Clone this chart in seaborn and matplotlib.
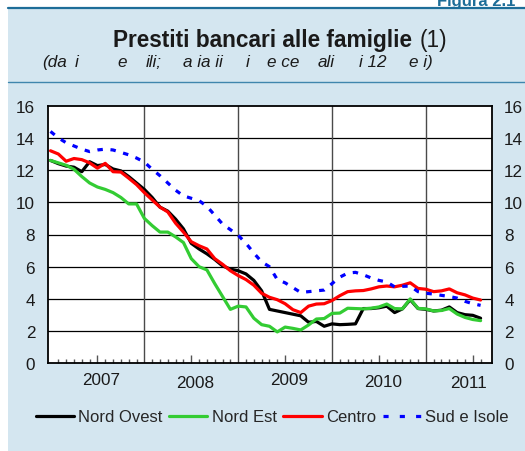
import numpy as np
import pandas as pd
import matplotlib
matplotlib.use("Agg")
import matplotlib.pyplot as plt
import matplotlib.transforms as mtransforms
from matplotlib.patches import Rectangle
from matplotlib.lines import Line2D
import seaborn as sns

# ---------------- data (monthly, Jan 2007 - Aug 2011) ----------------
months = list(range(56))
nord_ovest = [12.6, 12.4, 12.25, 12.18, 11.9, 12.52, 12.28, 12.35, 12.07, 11.95,
              11.6, 11.2, 10.8, 10.3, 9.7, 9.45, 8.95, 8.35, 7.45, 7.1,
              6.8, 6.45, 6.05, 5.85, 5.75, 5.55, 5.15, 4.5, 3.35, 3.25,
              3.15, 3.05, 2.95, 2.55, 2.6, 2.3, 2.45, 2.4, 2.42, 2.45,
              3.4, 3.4, 3.45, 3.55, 3.15, 3.38, 3.95, 3.4, 3.35, 3.25,
              3.3, 3.5, 3.15, 3.02, 2.98, 2.8]
nord_est = [12.6, 12.45, 12.3, 12.05, 11.6, 11.2, 10.95, 10.8, 10.6, 10.3,
            9.9, 9.9, 9.0, 8.55, 8.15, 8.15, 7.85, 7.5, 6.5, 6.0,
            5.8, 4.95, 4.15, 3.35, 3.55, 3.5, 2.8, 2.4, 2.3, 1.95,
            2.25, 2.17, 2.07, 2.38, 2.75, 2.78, 3.1, 3.12, 3.42, 3.4,
            3.38, 3.42, 3.5, 3.68, 3.4, 3.38, 4.0, 3.41, 3.38, 3.25,
            3.28, 3.4, 3.06, 2.85, 2.72, 2.65]
centro = [13.2, 13.0, 12.55, 12.72, 12.65, 12.45, 12.12, 12.42, 11.9, 11.88,
          11.5, 11.1, 10.6, 10.15, 9.7, 9.4, 8.7, 8.15, 7.55, 7.3,
          7.1, 6.5, 6.15, 5.75, 5.45, 5.2, 4.85, 4.35, 4.1, 3.95,
          3.7, 3.33, 3.15, 3.55, 3.68, 3.7, 3.9, 4.2, 4.45, 4.5,
          4.52, 4.62, 4.75, 4.8, 4.75, 4.85, 5.0, 4.65, 4.6, 4.45,
          4.5, 4.62, 4.38, 4.25, 4.05, 3.93]
sud_isole = [14.4, 14.0, 13.7, 13.5, 13.3, 13.15, 13.25, 13.3, 13.25, 13.1,
             12.95, 12.75, 12.5, 12.05, 11.65, 11.2, 10.75, 10.4, 10.25, 10.1,
             9.75, 9.2, 8.65, 8.3, 7.95, 7.45, 6.85, 6.3, 6.0, 5.2,
             5.0, 4.7, 4.4, 4.45, 4.5, 4.55, 4.95, 5.35, 5.6, 5.65,
             5.5, 5.3, 5.15, 5.05, 4.75, 4.78, 4.8, 4.45, 4.35, 4.3,
             4.22, 4.15, 4.05, 3.85, 3.7, 3.6]

series_names = ["Nord Ovest", "Nord Est", "Centro", "Sud e Isole"]
year_labels = ["2007", "2008", "2009", "2010", "2011"]
year_label_pos = [6.5, 18.5, 30.5, 42.5, 53.4]
year_boundaries = [12, 24, 36, 48]
y_ticks = [0, 2, 4, 6, 8, 10, 12, 14, 16]

title_main = "Prestiti bancari alle famiglie"
title_note = "(1)"
subtitle_parts = ["(da", "i", "e", "ili;", "a ia ii", "i", "e ce", "ali", "i 12", "e i)"]
fig_label = "Figura 2.1"

# ---------------- style ----------------
sns.set_theme(style="white")
plt.rcParams['font.family'] = ['Liberation Sans', 'DejaVu Sans']

W, H = 525, 452
panel_col = "#d4e6f0"
rule_col = "#1d6d98"
colors = ["#000000", "#33cc33", "#ff0000", "#0000ff"]

fig = plt.figure(figsize=(W / 100, H / 100), dpi=100)
fig.patch.set_facecolor("white")

def fx(px):
    return px / W

def fy(py):
    return 1 - py / H

fig.patches.append(Rectangle((fx(8), 0), 1, fy(9), transform=fig.transFigure,
                             facecolor=panel_col, edgecolor="none", zorder=-10))
fig.add_artist(Line2D([fx(8), 1], [fy(9), fy(9)], color=rule_col, lw=1.6))
fig.add_artist(Line2D([fx(8), 1], [fy(83), fy(83)], color="#3f86ad", lw=1.0))

fig.text(fx(437), fy(6), fig_label, ha="left", va="baseline", fontsize=12,
         fontweight="bold", color=rule_col)
fig.text(fx(412), fy(40), title_main, ha="right", va="center", fontsize=16.3,
         fontweight="bold", color="#1a1a1a")
fig.text(fx(420), fy(40), title_note, ha="left", va="center", fontsize=16.3,
         color="#1a1a1a")
sub_x = [42, 75, 117, 146, 183, 246, 267, 318, 359, 409]
for part, xp in zip(subtitle_parts, sub_x):
    fig.text(fx(xp), fy(63), part, ha="left", va="center", fontsize=12.3,
             style="italic", color="#1a1a1a")

left, right, top, bottom = 47.7, 491.7, 106.7, 364.3
ax = fig.add_axes([fx(left), fy(bottom), fx(right - left), (bottom - top) / H])
ax.set_facecolor("white")

df = pd.DataFrame({"mese": months, "Nord Ovest": nord_ovest, "Nord Est": nord_est,
                   "Centro": centro, "Sud e Isole": sud_isole})
long = df.melt(id_vars="mese", var_name="area", value_name="valore")

for name, col in zip(series_names, colors):
    sub = long[long["area"] == name]
    sns.lineplot(data=sub, x="mese", y="valore", ax=ax, color=col, linewidth=2.3,
                 zorder=5, legend=False)
lines = ax.get_lines()
lines[-1].set_dashes((1.7, 2.4))

for yv in y_ticks[1:-1]:
    ax.axhline(yv, color="black", lw=0.9, zorder=1)
for xv in year_boundaries:
    ax.axvline(xv, color="#4a4a4a", lw=1.0, zorder=1)

ax.set_xlim(-0.36, 56.42)
ax.set_ylim(0, 16)
ax.set_yticks(y_ticks)
ax.set_yticklabels([str(v) for v in y_ticks])
ax.tick_params(axis="y", which="both", length=0, pad=9, labelsize=12.3,
               left=False, right=False, labelleft=True, labelright=True,
               labelcolor="#1a1a1a")
ax.set_xticks([6, 18, 30, 42, 54])
ax.set_xticklabels([""] * 5)
ax.set_xticks([m for m in months if m % 12 not in (0, 6)], minor=True)
ax.tick_params(axis="x", which="major", direction="in", length=6, width=1,
               color="#555555", bottom=True, top=False)
ax.tick_params(axis="x", which="minor", direction="in", length=3, width=1,
               color="#555555", bottom=True, top=False)
ax.set_xlabel("")
ax.set_ylabel("")
for s in ax.spines.values():
    s.set_color("black")
    s.set_linewidth(1.3)
    s.set_visible(True)

trans = mtransforms.blended_transform_factory(ax.transData, fig.transFigure)
label_py = [380.7, 383.3, 380.3, 382.6, 383.3]
for lab, xp, py in zip(year_labels, year_label_pos, label_py):
    ax.text(xp, fy(py), lab, transform=trans, ha="center", va="center",
            fontsize=12.3, color="#1a1a1a", clip_on=False)

handles = [Line2D([], [], color=c, lw=2.3) for c in colors[:3]]
handles.append(Line2D([], [], color=colors[3], lw=2.3, dashes=(1.6, 3.5)))
fig.legend(handles, series_names, loc="center", bbox_to_anchor=(fx(272), fy(418)),
           ncol=4, frameon=False, fontsize=12, handlelength=2.3,
           handletextpad=0.25, columnspacing=0.4, borderpad=0)

fig.savefig("out.png", dpi=100, facecolor=fig.get_facecolor())
